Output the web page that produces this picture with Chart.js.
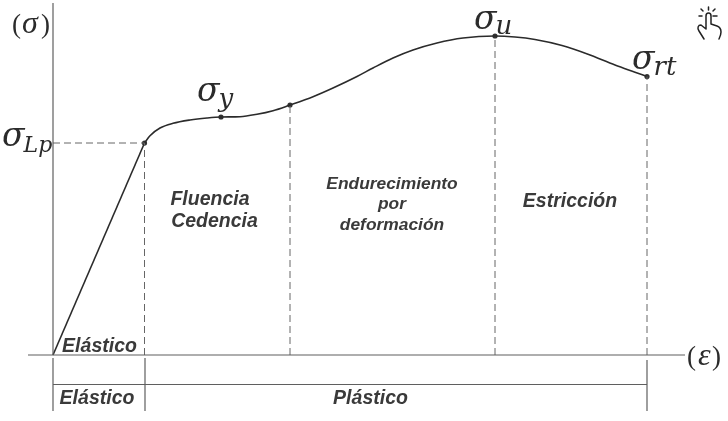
<!DOCTYPE html>
<html><head><meta charset="utf-8">
<style>html,body{margin:0;padding:0;background:#fff}#w{width:728px;height:421px}canvas{display:block}</style>
<script src="https://cdn.jsdelivr.net/npm/chart.js@4"></script></head>
<body><div id="w"><canvas id="c" width="728" height="421"></canvas></div>
<script>
// Arbitrary-unit strain / stress
const elasticStrain=[0,91.5];
const elasticStress=[0,212];
const plasticStrain=[91.5,97,107,120,137,154,168,187,204,220,237,260,280,304,320,340,360,384,410,442,462,482,509,535,562,582,594];
const plasticStress=[212,219.3,227,231.7,235,237,238,238.3,240.7,244.3,250,258.3,267,278.5,287,297,305,312,317,319,318,315.5,309.5,300.8,290,282.8,278.5];
const keyStrain=[91.5,168,237,442,594];
const keyStress=[212,238,250,319,278.5];
const guideStrain=[91.5,237,442,594];
const guideTop=[212,250,319,278.5];
const lpGuideStrain=[0,91.5];
const lpGuideStress=[212,212];
const labels=[
 {t:'Fluencia',x:157,y:150,k:'b'},{t:'Cedencia',x:161.5,y:128,k:'b'},
 {t:'Endurecimiento',x:339,y:166,k:'s'},{t:'por',x:339,y:146,k:'s'},{t:'deformación',x:339,y:125,k:'s'},
 {t:'Estricción',x:517,y:148,k:'b'},
 {t:'Elástico',x:46.5,y:3,k:'b'},{t:'Elástico',x:44,y:-49,k:'b'},{t:'Plástico',x:317.5,y:-49,k:'b'}
];
const segs=(xs,ys)=>xs.map((x,i)=>({x,y:ys[i]}));
const line=(data,extra)=>Object.assign({data,showLine:true,borderColor:'#5f5f5f',borderWidth:1.2,pointRadius:0,tension:0,fill:false},extra);
const dash=(x,top)=>line([{x,y:0},{x,y:top}],{borderColor:'#666',borderWidth:1,borderDash:[7,4]});
const overlay={id:'overlay',afterDatasetsDraw(ch){
 const c=ch.ctx,X=ch.scales.x,Y=ch.scales.y;
 c.save();c.textBaseline='alphabetic';c.fillStyle='#3a3a3a';
 c.textAlign='center';
 labels.forEach(l=>{c.font='italic bold '+(l.k==='b'?19.5:17.4)+'px "Liberation Sans"';c.fillText(l.t,X.getPixelForValue(l.x),Y.getPixelForValue(l.y));});
 c.textAlign='left';c.fillStyle='#2b2b2b';
 const serif='"DejaVu Serif"';
 const sym=(main,sub,x,y,ms,ss,dy)=>{c.font='italic '+ms+'px '+serif;const px=X.getPixelForValue(x),py=Y.getPixelForValue(y);c.fillText(main,px,py);const w=c.measureText(main).width;if(sub){c.font='italic '+ss+'px '+serif;c.fillText(sub,px+w-1,py+dy);}};
 sym('σ','Lp',-51,209,33,22,6);
 sym('σ','y',144,254,33,26,6);
 sym('σ','u',421,326,33,26,5);
 sym('σ','rt',579,286,33,26,6);
 const paren=(t,x,y)=>{c.font='27px "Liberation Serif"';c.fillText(t,X.getPixelForValue(x),Y.getPixelForValue(y));};
 const greek=(t,x,y)=>{c.font='italic 32px "Liberation Serif"';c.fillText(t,X.getPixelForValue(x),Y.getPixelForValue(y));};
 paren('(',-41,322);greek('σ',-31,322);paren(')',-12,322);
 paren('(',634,-10);greek('ε',645,-10);paren(')',659,-10);
 // pointer icon
 c.restore();c.save();c.translate(688,0);c.strokeStyle='#222';c.lineWidth=1.5;c.lineCap='round';c.lineJoin='round';
 c.stroke(new Path2D('M16 39 L11 31 C9 28 10 25 13 25 L18 29 L18 16 C18 12 23 12 23 16 L23 24 L29 26 C32 27 33 29 33 32 C33 35 32 37 31 39'));
 c.stroke(new Path2D('M20.5 7 L20.5 10 M13 9 L15 11 M27 9 L25 11 M11 16 L14 16 M25 16 L29 16'));
 c.restore();
}};
new Chart(document.getElementById('c'),{type:'scatter',plugins:[overlay],
 data:{datasets:[
  line([{x:0,y:0},{x:0,y:352}]),
  line([{x:-25,y:0},{x:632,y:0}]),
  line([{x:0,y:-3},{x:0,y:-56}]),
  line([{x:92,y:-3},{x:92,y:-56}]),
  line([{x:594,y:-5},{x:594,y:-56}]),
  line([{x:0,y:-29.5},{x:594,y:-29.5}]),
  ...guideStrain.map((x,i)=>dash(x,guideTop[i])),
  line(segs(lpGuideStrain,lpGuideStress),{borderColor:'#666',borderWidth:1,borderDash:[7,4]}),
  line(segs(elasticStrain,elasticStress),{borderColor:'#2b2b2b',borderWidth:1.6}),
  line(segs(plasticStrain,plasticStress),{borderColor:'#2b2b2b',borderWidth:1.6,cubicInterpolationMode:'monotone'}),
  {data:segs(keyStrain,keyStress),showLine:false,pointRadius:2.6,pointBackgroundColor:'#333',pointBorderWidth:0}
 ]},
 options:{responsive:false,animation:false,devicePixelRatio:1,layout:{padding:0,autoPadding:false},
  plugins:{legend:{display:false},tooltip:{enabled:false},title:{display:false}},
  scales:{x:{type:'linear',display:false,min:-53,max:675},y:{type:'linear',display:false,min:-66,max:355}}}
});
</script></body></html>
